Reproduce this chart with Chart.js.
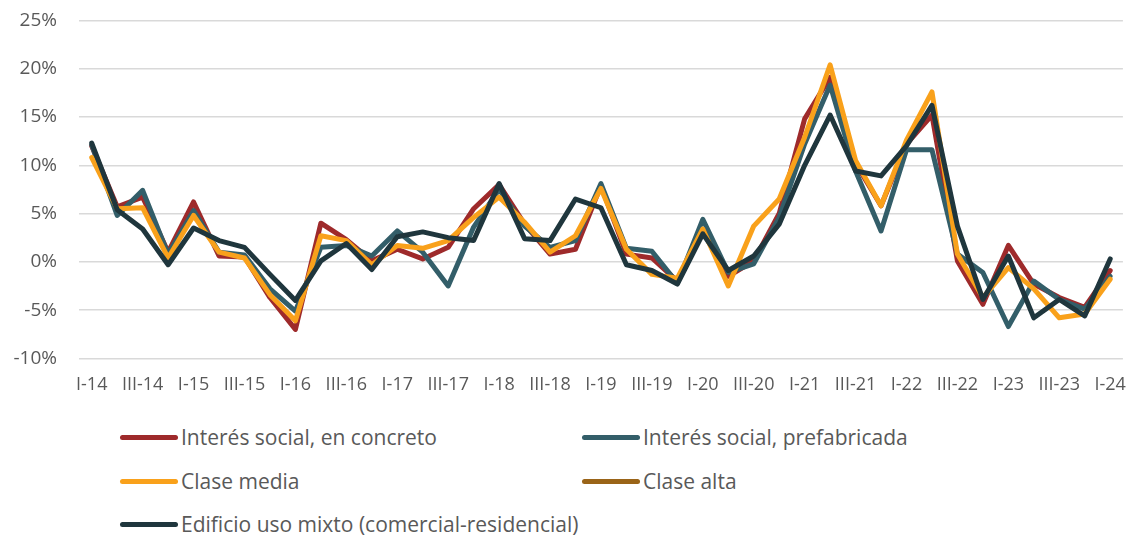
<!DOCTYPE html>
<html>
<head>
<meta charset="utf-8">
<script src="https://cdn.jsdelivr.net/npm/chart.js@4"></script>
<style>
  html, body { margin: 0; padding: 0; background: #fff; overflow: hidden; }
  #wrap { position: relative; width: 1142px; height: 541px; overflow: hidden; }
  #c { position: absolute; left: 0; top: -13px; }
  .leg { position: absolute; display: flex; align-items: center; font-family: "Open Sans", sans-serif; font-size: 21px; color: #595959; white-space: nowrap; }
  .sw { width: 58px; height: 5px; border-radius: 3px; margin-right: 3px; }
</style>
</head>
<body>
<div id="wrap">
  <canvas id="c" width="1142" height="425"></canvas>
  <div id="legend"></div>
</div>
<script>
const categories = [
  "I-14","II-14","III-14","IV-14","I-15","II-15","III-15","IV-15",
  "I-16","II-16","III-16","IV-16","I-17","II-17","III-17","IV-17",
  "I-18","II-18","III-18","IV-18","I-19","II-19","III-19","IV-19",
  "I-20","II-20","III-20","IV-20","I-21","II-21","III-21","IV-21",
  "I-22","II-22","III-22","IV-22","I-23","II-23","III-23","IV-23","I-24"
];
const seriesNames = [
  "Interés social, en concreto",
  "Interés social, prefabricada",
  "Clase media",
  "Clase alta",
  "Edificio uso mixto (comercial-residencial)"
];
const interesConcreto = [12.0,5.7,6.7,1.0,6.2,0.6,0.5,-3.7,-7.0,4.0,2.3,0.1,1.3,0.3,1.5,5.5,8.0,3.9,0.8,1.3,7.9,0.8,0.4,-2.0,3.2,-1.5,0.1,5.0,14.8,19.1,10.2,5.8,12.2,15.2,0.1,-4.4,1.7,-2.3,-3.7,-4.7,-0.9];
const interesPrefabricada = [12.1,4.8,7.4,0.8,5.3,1.0,0.7,-2.8,-5.1,1.5,1.7,0.6,3.2,1.0,-2.5,3.6,7.5,3.7,1.5,2.2,8.1,1.4,1.1,-2.2,4.4,-1.1,-0.2,4.6,12.2,18.3,9.4,3.2,11.6,11.6,0.8,-1.1,-6.7,-2.0,-3.9,-4.9,-1.5];
const claseMedia = [10.8,5.5,5.6,0.4,4.8,1.0,0.4,-3.4,-6.1,2.7,2.2,-0.3,1.7,1.4,2.2,4.6,6.7,4.1,1.0,2.7,7.6,1.3,-1.3,-1.7,3.4,-2.5,3.7,6.5,12.9,20.4,10.5,5.8,12.6,17.6,0.8,-3.7,-0.6,-2.8,-5.8,-5.4,-1.8];
const claseAlta = categories.map(() => null);
const usoMixto = [12.3,5.4,3.4,-0.3,3.5,2.2,1.5,-1.3,-4.0,0.1,1.9,-0.8,2.6,3.1,2.5,2.2,8.1,2.4,2.2,6.5,5.6,-0.3,-0.9,-2.3,2.9,-0.9,0.6,3.9,10.0,15.2,9.4,8.9,12.0,16.2,3.7,-3.9,0.6,-5.8,-3.9,-5.6,0.3];
const yTicks = [25,20,15,10,5,0,-5,-10];

const colors = ["#9E2A2B","#335E69","#F9A11B","#9A6418","#1F363D"];
const allData = [interesConcreto, interesPrefabricada, claseMedia, claseAlta, usoMixto];

const datasets = allData.map((d, i) => ({
  label: seriesNames[i],
  data: d,
  borderColor: colors[i],
  backgroundColor: colors[i],
  borderWidth: 5,
  pointRadius: 0,
  tension: 0,
  fill: false,
  borderJoinStyle: "round",
  borderCapStyle: "round",
  order: 4 - i
}));

new Chart(document.getElementById("c"), {
  type: "line",
  data: { labels: categories, datasets },
  options: {
    responsive: false,
    animation: false,
    layout: { padding: { left: 0, right: 9, top: 0, bottom: 0 } },
    plugins: { legend: { display: false }, tooltip: { enabled: false } },
    scales: {
      x: {
        offset: true,
        grid: { display: false, drawTicks: false },
        border: { display: false },
        ticks: {
          autoSkip: false,
          maxRotation: 0,
          padding: 16,
          color: "#595959",
          font: { family: "'Open Sans', sans-serif", size: 18 },
          callback: function(v, i) { return i % 2 === 0 ? categories[i] : ""; }
        }
      },
      y: {
        min: -10, max: 25,
        afterBuildTicks: (axis) => { axis.ticks = yTicks.map(v => ({ value: v })); },
        grid: { color: "#D9D9D9", lineWidth: 1.5, drawTicks: false },
        border: { display: false },
        afterFit: (axis) => { axis.width = 79; },
        ticks: {
          padding: 22,
          color: "#595959",
          font: { family: "'Open Sans', sans-serif", size: 19 },
          callback: (v) => v + "%"
        }
      }
    }
  }
});

const legendPos = [[120,437],[582,437],[120,481],[582,481],[120,524]];
const legend = document.getElementById("legend");
seriesNames.forEach((name, i) => {
  const el = document.createElement("div");
  el.className = "leg";
  el.style.left = legendPos[i][0] + "px";
  el.style.top = (legendPos[i][1] - 14) + "px";
  el.innerHTML = '<span class="sw" style="background:' + colors[i] + '"></span>' + name;
  legend.appendChild(el);
});
</script>
</body>
</html>
